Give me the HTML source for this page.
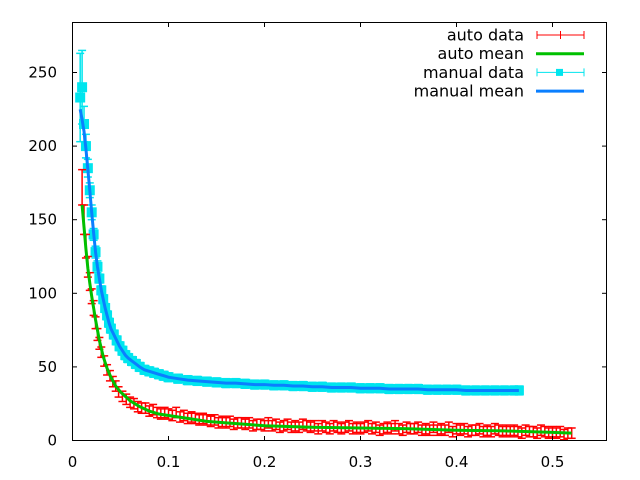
<!DOCTYPE html>
<html><head><meta charset="utf-8"><style>
body{margin:0;background:#fff}
svg{display:block;font-family:"DejaVu Sans","Liberation Sans",sans-serif}
</style></head><body>
<svg id="chart" width="640" height="480" viewBox="0 0 640 480">
<rect width="640" height="480" fill="#fff"/>
<g id="marks"></g>
<rect x="72.5" y="22.5" width="534" height="418" fill="none" stroke="#000" stroke-width="1"/>
<g id="axes"></g>
<g id="legend"></g>
</svg>
<script>
const xTicks=[0,0.1,0.2,0.3,0.4,0.5];
const xTickLabels=["0","0.1","0.2","0.3","0.4","0.5"];
const yTicks=[0,50,100,150,200,250];
const yTickLabels=["0","50","100","150","200","250"];
const autoX=[0.010,0.012,0.014,0.016,0.018,0.020,0.022,0.024,0.026,0.028,0.030,0.033,0.036,0.039,0.042,0.045,0.048,0.052,0.056,
0.060,0.064,0.068,0.072,0.076,0.080,0.084,0.088,0.092,0.096,
0.100,0.104,0.108,0.112,0.116,0.120,0.124,0.128,0.132,0.136,
0.140,0.144,0.148,0.152,0.156,0.160,0.164,0.168,0.172,0.176,
0.180,0.184,0.188,0.192,0.196,0.200,0.204,0.208,0.212,0.216,
0.220,0.224,0.228,0.232,0.236,0.240,0.244,0.248,0.252,0.256,
0.260,0.264,0.268,0.272,0.276,0.280,0.284,0.288,0.292,0.296,
0.300,0.304,0.308,0.312,0.316,0.320,0.324,0.328,0.332,0.336,
0.340,0.344,0.348,0.352,0.356,0.360,0.364,0.368,0.372,0.376,
0.380,0.384,0.388,0.392,0.396,0.400,0.404,0.408,0.412,0.416,
0.420,0.424,0.428,0.432,0.436,0.440,0.444,0.448,0.452,0.456,
0.460,0.464,0.468,0.472,0.476,0.480,0.484,0.488,0.492,0.496,
0.500,0.504,0.508,0.512,0.516,0.520];
const autoY=[172,150,132,118,108,98,90,80,72,66,60,54,48,44,40,37,33,30,28,
26,25,23,22,22,20,21,19,18,19,
18,17,19,16,17,15,16,15,14,15,
14,13,14,12,13,12,13,11,12,12,
11,12,10,11,11,10,12,10,11,9,
10,11,9,10,9,11,10,9,10,8,
10,9,8,10,9,8,9,10,8,9,
8,9,10,8,9,7,8,9,8,10,
8,7,9,8,8,9,7,8,7,9,
7,8,7,9,6,8,7,8,6,7,
7,8,6,7,6,8,7,6,7,6,
7,6,5,7,6,6,5,7,6,5,
6,5,6,4,5,5];
const autoErrEarly=[12,10,8,7,6,5,5,4,4,4];
const autoErrTail=3.5;
const autoMeanX=[0.010,0.012,0.014,0.016,0.018,0.020,0.024,0.028,0.032,0.036,0.040,0.045,0.050,0.060,0.070,0.080,0.090,0.10,0.12,0.14,0.16,0.18,0.20,0.25,0.30,0.35,0.40,0.45,0.50,0.52];
const autoMeanY=[160,145,130,117,107,98,82,68,57,49,43,37,33,27,23,20,18,17,15,13,12,11,10,9,8.5,8,7,6.5,5.5,5];
const manX=[0.008,0.010,0.012,0.014,0.016,0.018,0.020,0.022,0.024,0.026,0.028,0.030,0.032,0.034,0.036,0.038,0.040,0.043,0.046,0.049,0.052,0.055,0.058,0.062,0.066,0.070,0.075,0.080,0.085,0.09,0.095,0.10,0.11,0.12,0.13,0.14,0.15,0.16,0.17,0.18,0.19,0.20,0.21,0.22,0.23,0.24,0.25,0.26,0.27,0.28,0.29,0.30,0.31,0.32,0.33,0.34,0.35,0.36,0.37,0.38,0.39,0.40,0.41,0.42,0.43,0.44,0.45,0.46,0.465];
const manY=[233,240,215,200,185,170,155,140,128,118,110,102,96,90,85,80,76,72,68,64,61,58,56,54,52,50,48,47,46,45,44,43,42,41,40.5,40,39.5,39,39,38.5,38,38,37.5,37.5,37,37,36.5,36.5,36,36,36,35.5,35.5,35.5,35,35,35,35,34.5,34.5,34.5,34.5,34,34,34,34,34,34,34];
const manErrEarly=[30,25,12,8,6,5,5,4,4,4];
const manErrTail=3;
const manMean=[225,218,210,198,184,170,155,141,128,118,110,102,96,90,85,80,76,72,68,64,61,58,56,54,52,50,48,47,46,45,44,43,42,41,40.5,40,39.5,39,39,38.5,38,38,37.5,37.5,37,37,36.5,36.5,36,36,36,35.5,35.5,35.5,35,35,35,35,34.5,34.5,34.5,34.5,34,34,34,34,34,34,34];

const NS="http://www.w3.org/2000/svg";
const sx=v=>72.5+v*960;
const sy=v=>440.5-v*1.472;
function mk(tag,attrs,parent){const e=document.createElementNS(NS,tag);for(const k in attrs)e.setAttribute(k,attrs[k]);parent.appendChild(e);return e;}
const axes=document.getElementById('axes');
const marks=document.getElementById('marks');
const legend=document.getElementById('legend');

xTicks.forEach((t,i)=>{const x=sx(t);
 let l=mk('line',{x1:x,y1:440.5,x2:x,y2:436,stroke:'#000'},axes);
 
 
 let l2=mk('line',{x1:x,y1:22.5,x2:x,y2:27,stroke:'#000'},axes);
 
 
 let tx=mk('text',{x:x,y:467,'text-anchor':'middle','font-size':'15',fill:'#000'},axes);tx.textContent=xTickLabels[i];
 
 
});
yTicks.forEach((t,i)=>{const y=sy(t);
 let l=mk('line',{x1:72.5,y1:y,x2:77,y2:y,stroke:'#000'},axes);
 
 
 let l2=mk('line',{x1:606.5,y1:y,x2:602,y2:y,stroke:'#000'},axes);
 
 
 let tx=mk('text',{x:57,y:y+5,'text-anchor':'end','font-size':'15',fill:'#000'},axes);tx.textContent=yTickLabels[i];
 
 
});

function errbars(X,Y,eEarly,eTail,color,name,square){
 const g=mk('g',{},marks);
 
 
 X.forEach((xv,i)=>{const e=i<eEarly.length?eEarly[i]:eTail;const x=sx(xv),y1=sy(Y[i]-e),y2=sy(Y[i]+e);
  mk('line',{x1:x,y1:y1,x2:x,y2:y2,stroke:color,'stroke-width':1.5},g);
  mk('line',{x1:x-4,y1:y1,x2:x+4,y2:y1,stroke:color,'stroke-width':1.5},g);
  mk('line',{x1:x-4,y1:y2,x2:x+4,y2:y2,stroke:color,'stroke-width':1.5},g);
  if(square){mk('rect',{x:x-5,y:sy(Y[i])-5,width:10,height:10,fill:color},g);}
 });
}
function meanline(X,Y,color,name){
 const p=mk('polyline',{points:X.map((x,i)=>sx(x)+','+sy(Y[i])).join(' '),fill:'none',stroke:color,'stroke-width':3},marks);
 
 
}
errbars(manX,manY,manErrEarly,manErrTail,'#00e5ee','manual-data',true);
meanline(manX,manMean,'#0a7fff','manual-mean-line');
errbars(autoX,autoY,autoErrEarly,autoErrTail,'#ff0000','auto-data',false);
meanline(autoMeanX,autoMeanY,'#00c000','auto-mean-line');

const ents=[["auto data","#ff0000","err"],["auto mean","#00c000","line"],["manual data","#00e5ee","sq"],["manual mean","#0a7fff","line"]];
ents.forEach((e,i)=>{const y=35+i*18.7;
 const g=mk('g',{},legend);
 
 
 const t=mk('text',{x:524,y:y+5.5,'text-anchor':'end','font-size':'16',fill:'#000'},g);t.textContent=e[0];
 if(e[2]==='line'){mk('line',{x1:536,y1:y,x2:584,y2:y,stroke:e[1],'stroke-width':3},g);}
 else{mk('line',{x1:537,y1:y,x2:584,y2:y,stroke:e[1]},g);
  mk('line',{x1:537,y1:y-4,x2:537,y2:y+4,stroke:e[1]},g);
  mk('line',{x1:584,y1:y-4,x2:584,y2:y+4,stroke:e[1]},g);
  if(e[2]==='sq')mk('rect',{x:556,y:y-3.5,width:7,height:7,fill:e[1]},g);
  else mk('line',{x1:560.5,y1:y-4,x2:560.5,y2:y+4,stroke:e[1]},g);}
});
</script>
</body></html>
